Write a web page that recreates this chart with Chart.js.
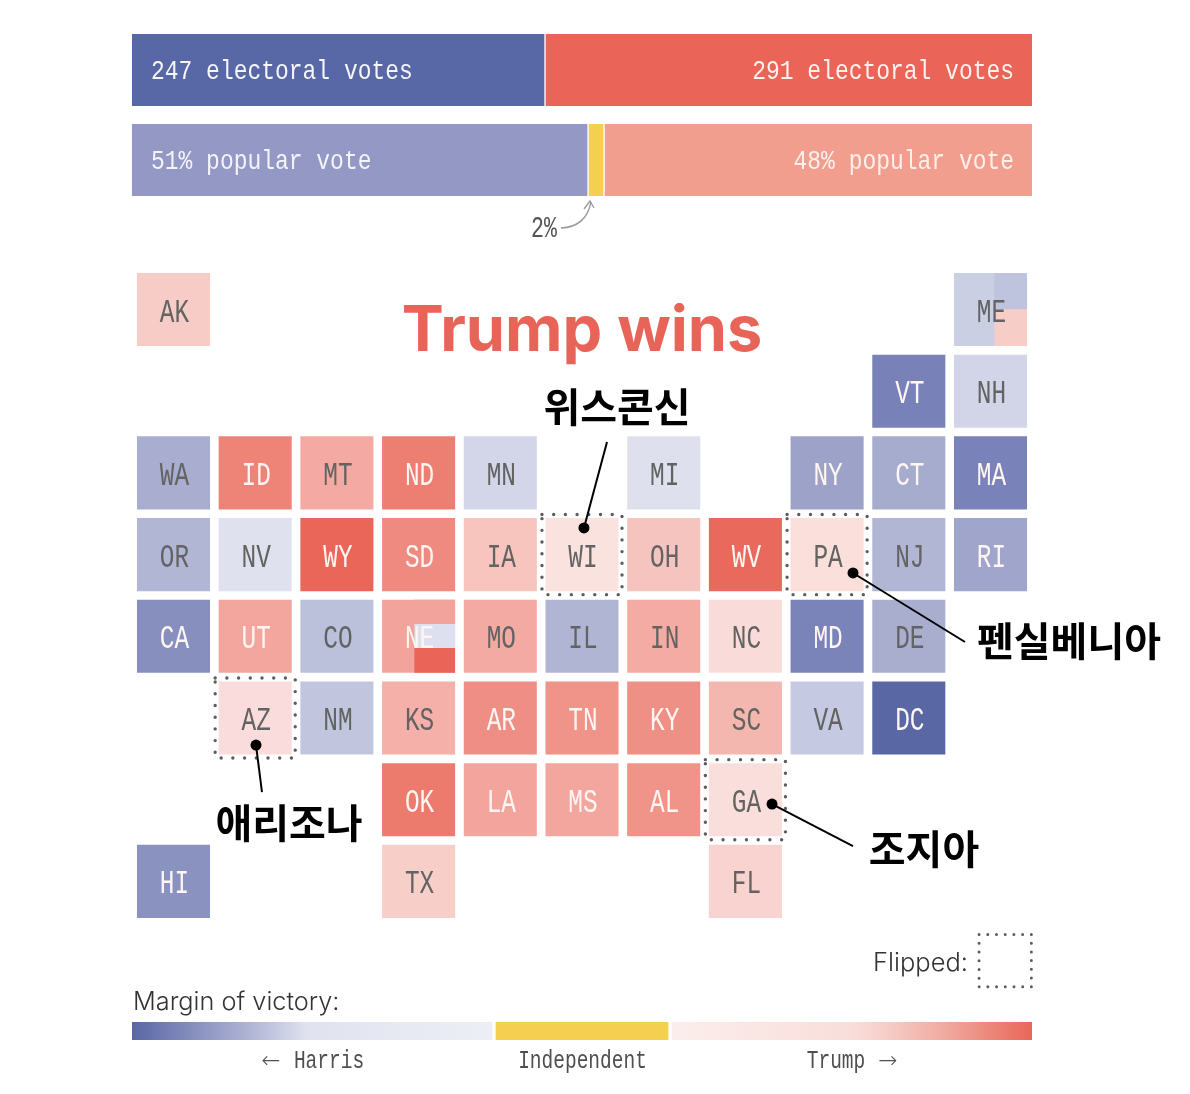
<!DOCTYPE html>
<html><head><meta charset="utf-8">
<style>
html,body{margin:0;padding:0;background:#fff;width:1190px;height:1094px;overflow:hidden}
canvas{position:absolute;left:0;top:0}
</style>
<script src="https://cdn.jsdelivr.net/npm/chart.js@4/dist/chart.umd.min.js"></script>
</head><body>
<canvas id="bars" width="1190" height="1094"></canvas>
<canvas id="grid" width="1190" height="1094"></canvas>
<canvas id="key" width="1190" height="1094"></canvas>
<script>
// ---------- data ----------
const barRows = ['electoral', 'popular'];
const harrisShare = [0.4589, 0.5067];
const otherShare  = [null, 0.0178];
const trumpShare  = [0.5411, 0.4755];
const barLabelsLeft  = ['247 electoral votes', '51% popular vote'];
const barLabelsRight = ['291 electoral votes', '48% popular vote'];

const tileGrid = [
  'AK . . . . . . . . . ME',
  '. . . . . . . . . VT NH',
  'WA ID MT ND MN . MI . NY CT MA',
  'OR NV WY SD IA WI OH WV PA NJ RI',
  'CA UT CO NE MO IL IN NC MD DE .',
  '. AZ NM KS AR TN KY SC VA DC .',
  '. . . OK LA MS AL GA . . .',
  'HI . . TX . . . FL . . .'
];
const stateFills = {
  AK:'#f7cbc6',ME:'#cacfe4',VT:'#7881b8',NH:'#d2d5e8',
  WA:'#a9aed0',ID:'#ee8378',MT:'#f4aaa2',ND:'#ec7e72',MN:'#d3d6e8',MI:'#dee0ee',NY:'#9da2c9',CT:'#a6acce',MA:'#7a83b9',
  OR:'#b1b6d4',NV:'#dfe1ef',WY:'#e96658',SD:'#ee8a80',IA:'#f7c4be',WI:'#fae3df',OH:'#f6c4be',WV:'#e96a5c',PA:'#fadfdb',NJ:'#b2b6d5',RI:'#a0a6cb',
  CA:'#868fbe',UT:'#f3a69e',CO:'#bbc0db',NE:'#f2a49c',MO:'#f3aaa2',IL:'#b0b5d4',IN:'#f4aba3',NC:'#f9dcd9',MD:'#7b84b9',DE:'#a9aecf',
  AZ:'#fadcdd',NM:'#c1c6de',KS:'#f4b0a9',AR:'#ef8e84',TN:'#f09489',KY:'#ef9086',SC:'#f4b7b0',VA:'#c5c9e1',DC:'#5a67a5',
  OK:'#ec7b6e',LA:'#f3a59d',MS:'#f3a69e',AL:'#f09388',GA:'#f9dedb',
  HI:'#8a92bf',TX:'#f7cec8',FL:'#f8d3cf'
};
const whiteLabelStates = ['VT','ID','ND','NY','CT','MA','WY','SD','WV','RI','CA','UT','NE','MD','AR','TN','KY','DC','OK','LA','MS','AL','HI'];
const flippedStates = ['WI','PA','AZ','GA'];

// district splits: fills from top to bottom
const meDistricts = ['#bfc4de', '#f7cdc8'];
const neDistricts = ['#f2a49c', '#dde0ee', '#ea6558'];

const calloutNames = ['위스콘신', '펜실베니아', '애리조나', '조지아'];
const calloutLines = [
  [[5.024,2.674],[5.306,1.622]],
  [[8.317,3.225],[9.688,4.070]],
  [[1.010,5.331],[1.083,5.906]],
  [[7.326,6.053],[8.317,6.567]]
];

const keyLabels = ['Harris', 'Independent', 'Trump'];
const keyExtents = [0.4022, 0.1956, 0.4022];
const harrisRamp = [[0,'#5a67a5'],[0.2,'#8f96c2'],[0.38,'#bfc3dd'],[0.48,'#e0e2ef'],[1,'#edeff6']];
const independentFill = '#f4cf50';
const trumpRamp = [[0,'#fbeeec'],[0.5,'#f9dedb'],[0.6,'#f6cdc8'],[0.77,'#f0a79e'],[1,'#e96658']];

// ---------- helpers ----------
const MONO = '"Liberation Mono"';
function mono(ctx, str, x, y, size, sx, color, align, weight) {
  ctx.save();
  ctx.translate(x, y);
  ctx.scale(sx, 1);
  ctx.font = (weight || '400') + ' ' + size + 'px ' + MONO;
  ctx.fillStyle = color;
  ctx.textAlign = align || 'center';
  ctx.textBaseline = 'alphabetic';
  ctx.fillText(str, 0, 0);
  ctx.restore();
}
function plain(ctx, str, x, y, font, color, align, base) {
  ctx.save();
  ctx.font = font;
  ctx.fillStyle = color;
  ctx.textAlign = align || 'center';
  ctx.textBaseline = base || 'alphabetic';
  ctx.fillText(str, x, y);
  ctx.restore();
}
const base = { responsive:false, animation:false, events:[], plugins:{legend:{display:false},tooltip:{enabled:false}} };

// ---------- top bars ----------
new Chart(document.getElementById('bars'), {
  type:'bar',
  data:{ labels:barRows, datasets:[
    {data:harrisShare, backgroundColor:['#5867a5','#9398c4'], borderColor:'#fff', borderWidth:{right:1}, borderSkipped:false},
    {data:otherShare, backgroundColor:'#f4cf50', borderColor:'#fff', borderWidth:{left:1,right:1}, borderSkipped:false},
    {data:trumpShare, backgroundColor:['#ea6558','#f19e8f'], borderColor:'#fff', borderWidth:{left:1}, borderSkipped:false}
  ]},
  options:{ ...base, indexAxis:'y',
    layout:{padding:{left:132,right:158,top:25,bottom:889}},
    datasets:{bar:{barThickness:72}},
    scales:{ x:{display:false,stacked:true,min:0,max:1}, y:{display:false,stacked:true} }
  },
  plugins:[{id:'barText', afterDatasetsDraw(c){
    const ctx=c.ctx, y=c.scales.y, x=c.scales.x;
    barRows.forEach((r,i)=>{
      const py=y.getPixelForValue(i)+9;
      mono(ctx,barLabelsLeft[i],x.left+19,py,28,0.82,i?'#f5f3fa':'#f5f5fb','left');
      mono(ctx,barLabelsRight[i],x.right-18,py,28,0.82,i?'#fdf0ec':'#fff3f0','right');
    });
    mono(ctx,'2%',531,237,30,0.72,'#555','left');
    ctx.save();
    ctx.strokeStyle='#999';ctx.lineWidth=1.3;
    ctx.beginPath();ctx.moveTo(561,228);ctx.quadraticCurveTo(586,227,591,202);ctx.stroke();
    ctx.beginPath();ctx.moveTo(584,209);ctx.lineTo(590,201);ctx.lineTo(594,208);ctx.stroke();
    ctx.restore();
  }}]
});

// ---------- tile map ----------
const tiles=[];
tileGrid.forEach((line,row)=>line.split(' ').forEach((code,col)=>{ if(code!=='.') tiles.push({code,col,row}); }));
const H=72.4/81.7/2;
const tilePos=code=>tiles.find(t=>t.code===code);
const mePos=tilePos('ME'), nePos=tilePos('NE');
const boxPath=(cx,cy,h)=>[[cx-h,cy-h],[cx+h,cy-h],[cx+h,cy+h],[cx-h,cy+h],[cx-h,cy-h]].map(p=>({x:p[0],y:p[1]}));

const splitBars=(pos,fills,offset)=>fills.map((f,i)=>({x:pos.col+offset,y:[pos.row-H+2*H*i/fills.length,pos.row-H+2*H*(i+1)/fills.length]}));

const gridDatasets=[
  ...calloutLines.map(seg=>({type:'line',order:0,clip:false,data:seg.map(p=>({x:p[0],y:p[1]})),borderColor:'#000',borderWidth:2,
    pointRadius:[5.5,0],pointBackgroundColor:'#000',pointBorderWidth:0,tension:0,fill:false})),
  ...flippedStates.map(code=>{const t=tilePos(code);return {type:'line',order:1,clip:false,data:boxPath(t.col,t.row,0.49),borderColor:'#5c5c5c',borderWidth:3.4,
    borderDash:[0.01,11.7],borderCapStyle:'round',pointRadius:0,tension:0,fill:false};}),
  {type:'line',order:1,clip:false,data:boxPath(10.18,7.97,0.32),borderColor:'#5c5c5c',borderWidth:3,borderDash:[0.01,8.7],borderCapStyle:'round',pointRadius:0,tension:0,fill:false},
  {type:'bar',order:2,grouped:false,clip:false,barThickness:32,data:splitBars(mePos,meDistricts,0.2475),backgroundColor:meDistricts},
  {type:'bar',order:2,grouped:false,clip:false,barThickness:40,data:splitBars(nePos,neDistricts,0.197),backgroundColor:neDistricts},
  {type:'bar',order:3,grouped:false,clip:false,barThickness:72.4,data:tiles.map(t=>({x:t.col,y:[t.row-H,t.row+H]})),backgroundColor:tiles.map(t=>stateFills[t.code])}
];
new Chart(document.getElementById('grid'), {
  type:'bar',
  data:{datasets:gridDatasets},
  options:{ ...base,
    layout:{padding:{left:132.65,right:158.65,top:268.65,bottom:171.75}},
    scales:{ x:{type:'linear',display:false,min:-0.5,max:10.5,offset:false},
             y:{type:'linear',display:false,min:-0.5,max:7.5,reverse:true} }
  },
  plugins:[{id:'gridText', afterDatasetsDraw(c){
    const ctx=c.ctx, x=c.scales.x, y=c.scales.y;
    tiles.forEach(t=>{
      const white=whiteLabelStates.includes(t.code);
      mono(ctx,t.code,x.getPixelForValue(t.col)+1,y.getPixelForValue(t.row)+12,33,0.74,white?'#fff5f2':'#636363','center');
    });
    plain(ctx,'Trump wins',582,351,'700 63px Inter','#e96458');
    const kr='700 40px "Noto Sans CJK KR"';
    plain(ctx,calloutNames[0],617,407,kr,'#000','center','middle');
    plain(ctx,calloutNames[1],1069,641,kr,'#000','center','middle');
    plain(ctx,calloutNames[2],289,823,kr,'#000','center','middle');
    plain(ctx,calloutNames[3],924,849,kr,'#000','center','middle');
    plain(ctx,'Flipped:',968,971,'300 25.5px Inter','#333','right');
    plain(ctx,'Margin of victory:',133,1010,'300 25.3px Inter','#333','left');
  }}]
});

// ---------- colour key ----------
function ramp(c,stops,from,to){
  const x=c.chart.scales.x;
  const x0=x?x.getPixelForValue(from):NaN, x1=x?x.getPixelForValue(to):NaN;
  if(!isFinite(x0)||!isFinite(x1)) return stops[0][1];
  const g=c.chart.ctx.createLinearGradient(x0,0,x1,0);
  stops.forEach(s=>g.addColorStop(s[0],s[1]));
  return g;
}
new Chart(document.getElementById('key'), {
  type:'bar',
  data:{labels:['margin'],datasets:[
    {data:[keyExtents[0]],backgroundColor:c=>ramp(c,harrisRamp,0,keyExtents[0]),borderColor:'#fff',borderWidth:{right:2},borderSkipped:false},
    {data:[keyExtents[1]],backgroundColor:independentFill,borderColor:'#fff',borderWidth:{left:2,right:2},borderSkipped:false},
    {data:[keyExtents[2]],backgroundColor:c=>ramp(c,trumpRamp,keyExtents[0]+keyExtents[1],1),borderColor:'#fff',borderWidth:{left:2},borderSkipped:false}
  ]},
  options:{ ...base, indexAxis:'y',
    layout:{padding:{left:132,right:158,top:1022,bottom:54}},
    datasets:{bar:{barThickness:18}},
    scales:{ x:{display:false,stacked:true,min:0,max:1}, y:{display:false,stacked:true} }
  },
  plugins:[{id:'keyText', afterDatasetsDraw(c){
    const ctx=c.ctx, col='#4f4f4f';
    mono(ctx,keyLabels[0],329,1068,25,0.78,col);
    mono(ctx,keyLabels[1],582.5,1068,25,0.78,col);
    mono(ctx,keyLabels[2],836,1068,25,0.78,col);
    plain(ctx,'←',271,1068,'300 23px "DejaVu Sans"',col);
    plain(ctx,'→',888,1068,'300 23px "DejaVu Sans"',col);
  }}]
});
</script>
</body></html>
